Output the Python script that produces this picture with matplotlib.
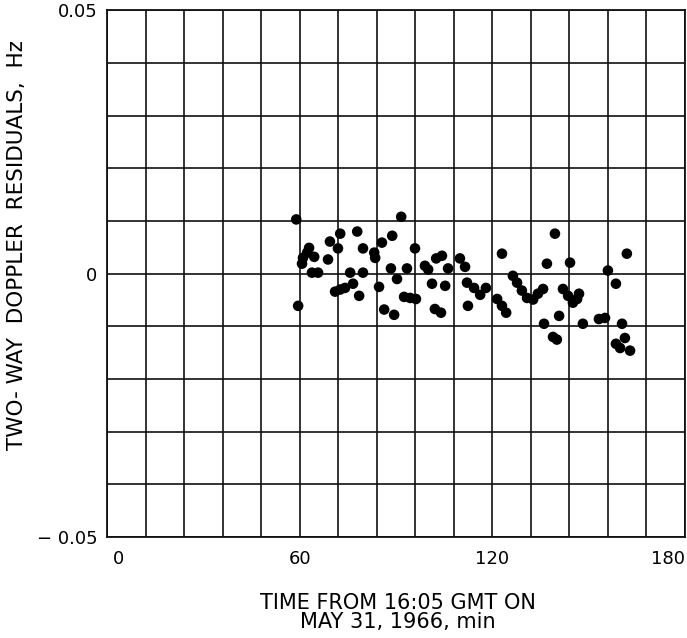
import matplotlib
matplotlib.use("Agg")
import matplotlib.pyplot as plt
from matplotlib.transforms import ScaledTranslation
import numpy as np

# time from 16:05 GMT, min
time_min = [
    58.9, 59.5, 60.7, 61.0, 62.3, 62.9, 64.5, 63.8, 65.7, 68.8,
    69.4, 72.6, 71.9, 71.0, 72.6, 74.1, 76.6, 75.7, 78.5, 77.9,
    79.7, 79.7, 83.2, 83.5, 85.6, 84.7, 86.3, 88.4, 88.8, 89.4,
    91.6, 90.3, 93.4, 95.9, 92.5, 94.4, 96.2, 99.0, 100.0, 102.5,
    104.3, 101.2, 105.3, 102.1, 104.0, 106.2, 109.9, 111.5, 112.1, 114.3,
    116.2, 118.0, 112.4, 121.5, 123.0, 124.3, 123.0, 126.4, 127.7, 129.2,
    130.8, 132.7, 134.2, 135.8, 139.5, 137.0, 144.2, 142.0, 143.6, 145.1,
    147.0, 146.4, 136.1, 140.8, 138.9, 140.1, 148.2, 153.2, 155.1, 156.0,
    158.5, 161.9, 160.4, 161.3, 158.5, 159.8, 162.9,
]

# two-way doppler residuals, Hz
residual_hz = [
    0.0103, -0.0061, 0.0019, 0.0030, 0.0040, 0.0049, 0.0032, 0.0002, 0.0002, 0.0027,
    0.0061, 0.0076, 0.0048, -0.0034, -0.0030, -0.0027, -0.0019, 0.0002, -0.0042, 0.0080,
    0.0002, 0.0048, 0.0040, 0.0030, 0.0059, -0.0025, -0.0068, 0.0010, 0.0072, -0.0078,
    0.0108, -0.0010, 0.0010, 0.0048, -0.0044, -0.0046, -0.0048, 0.0015, 0.0008, 0.0029,
    0.0034, -0.0019, -0.0023, -0.0067, -0.0074, 0.0010, 0.0029, 0.0013, -0.0017, -0.0027,
    -0.0040, -0.0027, -0.0061, -0.0048, -0.0061, -0.0074, 0.0038, -0.0004, -0.0017, -0.0032,
    -0.0046, -0.0049, -0.0038, -0.0029, 0.0076, 0.0019, 0.0021, -0.0029, -0.0042, -0.0055,
    -0.0038, -0.0048, -0.0095, -0.0080, -0.0120, -0.0125, -0.0095, -0.0086, -0.0084, 0.0006,
    -0.0019, 0.0038, -0.0095, -0.0122, -0.0133, -0.0141, -0.0146,
]

x_ticks = [0, 60, 120, 180]
x_tick_labels = ["0", "60", "120", "180"]
y_ticks = [-0.05, 0, 0.05]
y_tick_labels = ["\u2212 0.05", "0", "0.05"]

plt.rcParams["font.family"] = ["DejaVu Sans"]

fig = plt.figure(figsize=(6.87, 6.38), dpi=100)
ax = fig.add_axes([0.156, 0.158, 0.841, 0.826])

# graph-paper grid: every 12 min and every 0.01 Hz
for gx in np.arange(0, 181, 12):
    ax.axvline(gx, color="#111111", lw=1.2, zorder=1)
for gy in np.arange(-0.05, 0.0501, 0.01):
    ax.axhline(gy, color="#111111", lw=1.2, zorder=1)

ax.scatter(time_min, residual_hz, s=58, color="black", edgecolors="none", zorder=3)

ax.set_xlim(0, 180)
ax.set_ylim(-0.05, 0.05)

for sp in ax.spines.values():
    sp.set_linewidth(1.3)
    sp.set_color("#111111")

ax.set_xticks(x_ticks)
ax.set_xticklabels(x_tick_labels, fontsize=13)
ax.set_yticks(y_ticks)
ax.set_yticklabels(y_tick_labels, fontsize=13)
ax.tick_params(axis="y", length=0, pad=7)
ax.tick_params(axis="x", length=0, pad=9)
xl = ax.get_xticklabels()
xl[0].set_ha("left")
xl[0].set_transform(xl[0].get_transform() + ScaledTranslation(0.06, 0, fig.dpi_scale_trans))
xl[-1].set_ha("right")

ax.set_xlabel("TIME FROM 16:05 GMT ON\nMAY 31, 1966, min", fontsize=15, linespacing=0.95)
ax.xaxis.set_label_coords(0.503, -0.105)
ax.set_ylabel("TWO- WAY  DOPPLER  RESIDUALS,  Hz", fontsize=15.5)
ax.yaxis.set_label_coords(-0.138, 0.554)

fig.savefig("out.png", dpi=100, facecolor="white")
